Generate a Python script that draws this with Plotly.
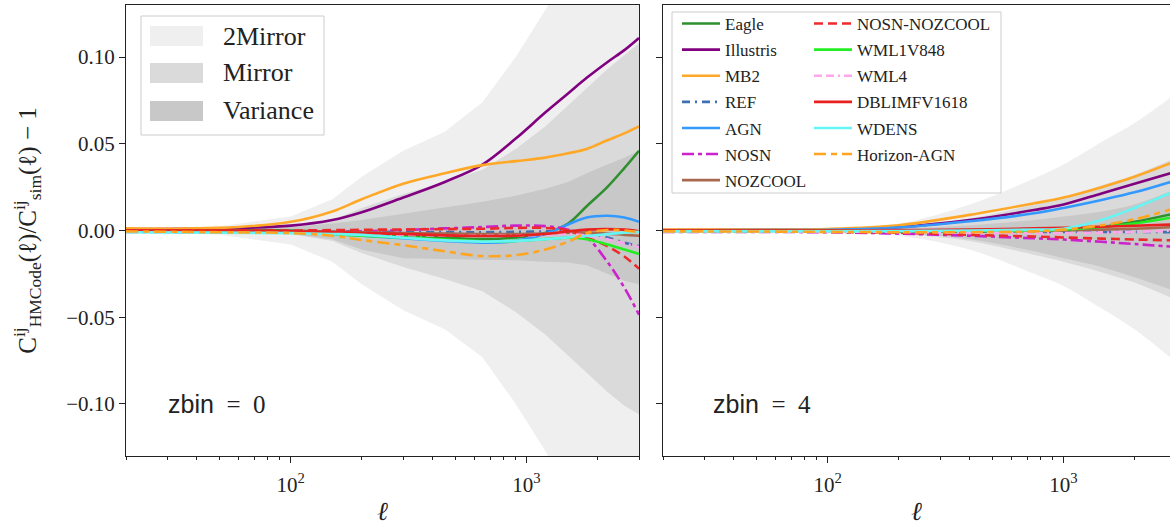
import math
import plotly.graph_objects as go

# ---------------- data ----------------
ell_z0 = [20, 50, 100, 150, 200, 300, 450, 650, 900, 1200, 1500, 1800, 2200, 2600, 3000]
ell_z4 = [20, 50, 100, 200, 400, 750, 1000, 1450, 2000, 3000]

# zbin = 0 : uncertainty bands
z0_2mirror_up = [0.0008, 0.0025, 0.008, 0.018, 0.031, 0.046, 0.057, 0.074, 0.100, 0.127, 0.150, 0.170, 0.200, 0.225, 0.250]
z0_2mirror_lo = [-0.0008, -0.0025, -0.008, -0.018, -0.031, -0.046, -0.057, -0.073, -0.100, -0.127, -0.150, -0.170, -0.200, -0.225, -0.250]
z0_mirror_up = [0.0005, 0.0008, 0.002, 0.006, 0.013, 0.021, 0.028, 0.035, 0.047, 0.060, 0.072, 0.082, 0.093, 0.101, 0.108]
z0_mirror_lo = [-0.0005, -0.0008, -0.002, -0.006, -0.013, -0.021, -0.028, -0.035, -0.047, -0.060, -0.072, -0.082, -0.093, -0.101, -0.106]
z0_var_up = [0.0004, 0.0008, 0.002, 0.004, 0.006, 0.0095, 0.013, 0.0166, 0.020, 0.024, 0.028, 0.033, 0.038, 0.042, 0.046]
z0_var_lo = [-0.0004, -0.0008, -0.002, -0.005, -0.011, -0.016, -0.0165, -0.0168, -0.0172, -0.018, -0.0185, -0.020, -0.025, -0.029, -0.031]

# zbin = 0 : simulations
z0_eagle = [0.0005, 0.0003, 0.0, -0.001, -0.002, -0.003, -0.004, -0.005, -0.004, -0.0015, 0.004, 0.014, 0.025, 0.036, 0.046]
z0_illustris = [0.0008, 0.0012, 0.0028, 0.006, 0.0105, 0.019, 0.028, 0.038, 0.053, 0.068, 0.079, 0.088, 0.097, 0.104, 0.111]
z0_mb2 = [0.0012, 0.0015, 0.005, 0.011, 0.018, 0.027, 0.033, 0.0377, 0.040, 0.042, 0.0445, 0.047, 0.052, 0.056, 0.060]
z0_ref = [-0.0003, -0.0004, -0.0005, -0.0006, -0.0007, -0.0008, -0.0009, -0.001, -0.0008, -0.0005, -0.0003, -0.001, -0.004, -0.007, -0.009]
z0_agn = [-0.0003, -0.0005, -0.001, -0.002, -0.003, -0.0045, -0.006, -0.007, -0.006, -0.002, 0.0035, 0.0075, 0.0085, 0.0075, 0.005]
z0_nosn = [-0.0008, -0.001, -0.001, -0.0008, -0.0005, 0.0003, 0.0012, 0.002, 0.0028, 0.0025, 0.0005, -0.004, -0.018, -0.033, -0.0485]
z0_nozcool = [0.0, -0.0002, -0.0005, -0.0008, -0.001, -0.0015, -0.0018, -0.002, -0.002, -0.0017, -0.0012, -0.0012, -0.0018, -0.0025, -0.003]
z0_nosn_nozcool = [0.0, 0.0, 0.0, 0.0002, 0.0004, 0.0006, 0.0008, 0.001, 0.0015, 0.0015, 0.0, -0.004, -0.009, -0.015, -0.022]
z0_wml1v848 = [-0.0005, -0.0007, -0.001, -0.002, -0.003, -0.004, -0.0052, -0.0062, -0.006, -0.005, -0.0042, -0.005, -0.008, -0.011, -0.0135]
z0_wml4 = [-0.0004, -0.0006, -0.001, -0.0015, -0.002, -0.0025, -0.003, -0.003, -0.003, -0.0025, -0.002, -0.003, -0.005, -0.0075, -0.0095]
z0_dblimfv1618 = [0.0, 0.0, -0.0005, -0.001, -0.0015, -0.002, -0.0028, -0.0032, -0.003, -0.002, -0.0005, 0.0005, 0.0008, 0.0005, -0.0005]
z0_wdens = [-0.001, -0.0012, -0.0015, -0.002, -0.0025, -0.0042, -0.0057, -0.0064, -0.006, -0.005, -0.004, -0.0032, -0.002, -0.0012, -0.0007]
z0_horizon_agn = [-0.0005, -0.001, -0.0015, -0.003, -0.0055, -0.0085, -0.012, -0.0147, -0.0142, -0.011, -0.0065, -0.0015, 0.0003, 0.0, -0.001]

# zbin = 4 : uncertainty bands
z4_2mirror_up = [0.0002, 0.0004, 0.0009, 0.004, 0.015, 0.030, 0.038, 0.051, 0.062, 0.079]
z4_2mirror_lo = [-0.0002, -0.0004, -0.0008, -0.003, -0.011, -0.025, -0.032, -0.045, -0.057, -0.076]
z4_mirror_up = [0.0001, 0.0002, 0.0005, 0.002, 0.007, 0.015, 0.019, 0.026, 0.032, 0.042]
z4_mirror_lo = [-0.0001, -0.0002, -0.0005, -0.002, -0.006, -0.014, -0.018, -0.024, -0.030, -0.040]
z4_var_up = [0.0001, 0.0002, 0.0004, 0.001, 0.003, 0.006, 0.008, 0.011, 0.015, 0.024]
z4_var_lo = [-0.0001, -0.0002, -0.0004, -0.0015, -0.005, -0.012, -0.016, -0.021, -0.027, -0.035]

# zbin = 4 : simulations
z4_eagle = [0.0, 0.0, -0.0002, -0.0004, -0.0005, -0.0003, 0.0, 0.002, 0.005, 0.010]
z4_illustris = [0.0003, 0.0004, 0.0006, 0.002, 0.006, 0.0118, 0.015, 0.0214, 0.027, 0.034]
z4_mb2 = [0.0005, 0.0006, 0.0009, 0.003, 0.009, 0.0157, 0.019, 0.025, 0.031, 0.040]
z4_ref = [-0.0003, -0.0003, -0.0003, -0.0005, -0.0007, -0.0008, -0.0008, -0.0008, -0.0008, -0.001]
z4_agn = [0.0, 0.0002, 0.0004, 0.0017, 0.0053, 0.0099, 0.013, 0.0176, 0.022, 0.029]
z4_nosn = [-0.0008, -0.0009, -0.001, -0.0018, -0.003, -0.0045, -0.0052, -0.0065, -0.0078, -0.0095]
z4_nozcool = [0.0, 0.0, 0.0, -0.0002, -0.0003, -0.0002, 0.0, 0.0005, 0.001, 0.002]
z4_nosn_nozcool = [-0.0005, -0.0006, -0.0008, -0.0013, -0.0025, -0.0035, -0.004, -0.0047, -0.0052, -0.0057]
z4_wml1v848 = [-0.0003, -0.0003, -0.0003, -0.0004, -0.0003, 0.0, 0.0005, 0.002, 0.004, 0.008]
z4_wml4 = [-0.0005, -0.0005, -0.0006, -0.0008, -0.0012, -0.0015, -0.0015, -0.0012, -0.0008, 0.0]
z4_dblimfv1618 = [0.0, 0.0, 0.0, 0.0002, 0.0006, 0.0012, 0.0016, 0.0022, 0.0027, 0.0035]
z4_wdens = [-0.0005, -0.0005, -0.0004, -0.0003, 0.0, 0.0005, 0.001, 0.006, 0.013, 0.023]
z4_horizon_agn = [-0.0005, -0.0006, -0.0008, -0.001, -0.001, -0.0005, 0.0005, 0.003, 0.0065, 0.013]

sim_names = ["Eagle", "Illustris", "MB2", "REF", "AGN", "NOSN", "NOZCOOL",
             "NOSN-NOZCOOL", "WML1V848", "WML4", "DBLIMFV1618", "WDENS", "Horizon-AGN"]
z0_series = [z0_eagle, z0_illustris, z0_mb2, z0_ref, z0_agn, z0_nosn, z0_nozcool,
             z0_nosn_nozcool, z0_wml1v848, z0_wml4, z0_dblimfv1618, z0_wdens, z0_horizon_agn]
z4_series = [z4_eagle, z4_illustris, z4_mb2, z4_ref, z4_agn, z4_nosn, z4_nozcool,
             z4_nosn_nozcool, z4_wml1v848, z4_wml4, z4_dblimfv1618, z4_wdens, z4_horizon_agn]

band_names = ["2Mirror", "Mirror", "Variance"]
x_tick_labels = ["10<sup>2</sup>", "10<sup>3</sup>"]
y_tick_labels = ["\u22120.10", "\u22120.05", "0.00", "0.05", "0.10"]

# ---------------- styles ----------------
sim_colors = ["#2f8f2f", "#800080", "#ffa828", "#3f6fb5", "#3399ff", "#cc22cc", "#a8694f",
              "#ee2b2b", "#22ee22", "#ffa6ec", "#e82020", "#66f5f5", "#ffa51f"]
sim_dashes = ["solid", "solid", "solid", "8px,5px,2px,5px", "solid", "12px,4px,4px,4px", "solid",
              "9px,5px", "solid", "8px,4px,8px,4px,2px,4px", "solid", "solid", "12px,5px,6px,5px"]
band_colors = ["#efefef", "#dadada", "#c8c8c8"]

SERIF = "Liberation Serif, Times New Roman, serif"
AXC = "#222222"

W, H = 1170, 527
ML, MR, MT, MB = 126, 0, 5, 71
PW, PH = W - ML - MR, H - MT - MB


def px(x):
    return (x - ML) / PW


def py(y):
    return (H - MB - y) / PH


xr_log = [math.log10(20), math.log10(3000)]
dec_px = 513 / (xr_log[1] - xr_log[0])
xr2_log = [xr_log[0], xr_log[0] + (W - 663) / dec_px]

fig = go.Figure()

panels = [
    ("x", "y", ell_z0,
     [(z0_2mirror_lo, z0_2mirror_up), (z0_mirror_lo, z0_mirror_up), (z0_var_lo, z0_var_up)],
     z0_series, "linear"),
    ("x2", "y2", ell_z4,
     [(z4_2mirror_lo, z4_2mirror_up), (z4_mirror_lo, z4_mirror_up), (z4_var_lo, z4_var_up)],
     z4_series, "spline"),
]

for pi, (xa, ya, ell, bands, series, bshape) in enumerate(panels):
    for bi, (lo, up) in enumerate(bands):
        fig.add_trace(go.Scatter(x=ell, y=lo, xaxis=xa, yaxis=ya, mode="lines",
                                 line=dict(width=0, shape=bshape), showlegend=False,
                                 hoverinfo="skip"))
        fig.add_trace(go.Scatter(x=ell, y=up, xaxis=xa, yaxis=ya, mode="lines",
                                 line=dict(width=0, shape=bshape), fill="tonexty",
                                 fillcolor=band_colors[bi],
                                 showlegend=False, hoverinfo="skip"))
    for si, name in enumerate(sim_names):
        tr = dict(x=ell, y=series[si], xaxis=xa, yaxis=ya, mode="lines",
                  line=dict(color=sim_colors[si], width=2.6, dash=sim_dashes[si],
                            shape="spline", smoothing=1.0),
                  showlegend=(pi == 1), legendgroup=name)
        if pi == 1:
            tr["name"] = name
            tr["legend"] = "legend2" if si < 7 else "legend3"
        fig.add_trace(go.Scatter(**tr))

minor_vals = [20, 30, 40, 50, 60, 70, 80, 90, 200, 300, 400, 500, 600, 700, 800, 900, 2000, 3000]
xcommon = dict(type="log", tickmode="array", tickvals=[100, 1000], ticktext=x_tick_labels,
               ticks="outside", ticklen=6, tickwidth=1, tickcolor=AXC, ticklabelstandoff=4,
               showline=True, linecolor=AXC, linewidth=1, mirror=True,
               showgrid=False, zeroline=False,
               tickfont=dict(family=SERIF, size=21, color=AXC),
               minor=dict(tickmode="array", tickvals=minor_vals, ticks="outside",
                          ticklen=3, tickwidth=1, tickcolor=AXC, showgrid=False),
               title=dict(text="<i>\u2113</i>", font=dict(family=SERIF, size=26, color=AXC), standoff=5))
ycommon = dict(range=[-0.13, 0.13], tickmode="array", tickvals=[-0.1, -0.05, 0, 0.05, 0.1],
               ticks="outside", ticklen=6, tickwidth=1, tickcolor=AXC,
               showline=True, linecolor=AXC, linewidth=1,
               showgrid=False, zeroline=False,
               tickfont=dict(family=SERIF, size=21, color=AXC))

fig.update_layout(
    width=W, height=H,
    margin=dict(l=ML, r=MR, t=MT, b=MB),
    paper_bgcolor="white", plot_bgcolor="white",
    font=dict(family=SERIF, color=AXC, size=16),
    showlegend=True,
    xaxis=dict(xcommon, domain=[0, 513 / PW], range=xr_log),
    xaxis2=dict(xcommon, domain=[(663 - ML) / PW, 1], range=xr2_log, anchor="y2"),
    yaxis=dict(ycommon, ticktext=y_tick_labels, mirror=True,
               title=dict(text="C<sup>ij</sup><sub>HMCode</sub>(\u2113)/C<sup>ij</sup><sub>sim</sub>(\u2113) \u2212 1",
                          font=dict(family=SERIF, size=25, color=AXC), standoff=22)),
    yaxis2=dict(ycommon, anchor="x2", matches="y", showticklabels=False, mirror=False),
)

leg_common = dict(bgcolor="rgba(0,0,0,0)", borderwidth=0, xanchor="left", yanchor="top",
                  font=dict(family=SERIF, size=17, color=AXC), itemwidth=38,
                  traceorder="grouped", tracegroupgap=1)
fig.update_layout(
    legend2=dict(leg_common, x=px(677), y=py(6)),
    legend3=dict(leg_common, x=px(809), y=py(6)),
)

shapes = []
annotations = []
# frame of simulation legend (right panel)
shapes.append(dict(type="rect", xref="paper", yref="paper", layer="above",
                   x0=px(672), x1=px(1001), y0=py(12), y1=py(193),
                   fillcolor="rgba(255,255,255,0.85)", line=dict(color="#cccccc", width=1)))
# band legend (left panel)
shapes.append(dict(type="rect", xref="paper", yref="paper", layer="above",
                   x0=px(141), x1=px(324), y0=py(16), y1=py(135),
                   fillcolor="rgba(255,255,255,0.85)", line=dict(color="#cccccc", width=1)))
row_y = [36, 73, 111]
for bi, name in enumerate(band_names):
    shapes.append(dict(type="rect", xref="paper", yref="paper", layer="above",
                       x0=px(150), x1=px(203), y0=py(row_y[bi] - 10), y1=py(row_y[bi] + 10),
                       fillcolor=band_colors[bi], line=dict(width=0)))
    annotations.append(dict(xref="paper", yref="paper", x=px(221), y=py(row_y[bi]),
                            xanchor="left", yanchor="middle", showarrow=False, text=name,
                            font=dict(family=SERIF, size=26, color=AXC)))

for xa, zb in (("x", "0"), ("x2", "4")):
    annotations.append(dict(xref=xa + " domain", yref="y" if xa == "x" else "y2",
                            x=(166 - 126) / 513 if xa == "x" else (712 - 663) / 513,
                            y=-0.1, xanchor="left", yanchor="middle", showarrow=False,
                            text="<span style=\"font-family:'Liberation Sans'\">zbin</span>\u2002=\u2002" + zb,
                            font=dict(family=SERIF, size=25, color=AXC)))

fig.update_layout(shapes=shapes, annotations=annotations)

fig.write_html("out.html", config={"displayModeBar": False},
               post_script="document.body.style.margin='0px';")
